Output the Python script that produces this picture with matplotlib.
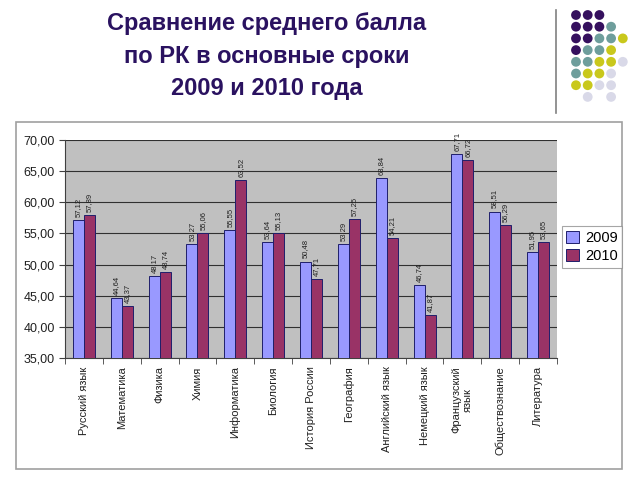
import matplotlib
matplotlib.use("Agg")
import matplotlib.pyplot as plt
from matplotlib.patches import Rectangle, Circle
from matplotlib.lines import Line2D
import numpy as np

categories = ["Русский язык", "Математика", "Физика", "Химия", "Информатика",
              "Биология", "История России", "География", "Английский язык",
              "Немецкий язык", "Французский\nязык", "Обществознание", "Литература"]
v2009 = [57.12, 44.64, 48.17, 53.27, 55.55, 53.64, 50.48, 53.29, 63.84, 46.74, 67.71, 58.51, 51.95]
v2010 = [57.89, 43.37, 48.74, 55.06, 63.52, 55.13, 47.71, 57.25, 54.21, 41.87, 66.72, 56.29, 53.65]
yticks = [35, 40, 45, 50, 55, 60, 65, 70]

plt.rcParams['font.family'] = ['Liberation Sans', 'DejaVu Sans']
W, H = 640, 480
fig = plt.figure(figsize=(6.4, 4.8), dpi=100)

def fx(x): return x / W
def fy(y): return 1 - y / H

# title
fig.text(fx(267), fy(56), "Сравнение среднего балла\nпо РК в основные сроки\n2009 и 2010 года",
         ha='center', va='center', fontsize=17, fontweight='bold', color='#2A1260',
         linespacing=1.55)

# vertical separator
fig.add_artist(Line2D([fx(556), fx(556)], [fy(10), fy(113)], color='#808080', lw=1.2))

# dot grid
purple, teal, yellow, lav = '#35105E', '#6E9E9C', '#C9C81C', '#D9D9E8'
grid = [
    [purple, purple, purple, None, None],
    [purple, purple, purple, teal, None],
    [purple, purple, teal, teal, yellow],
    [purple, teal, teal, yellow, None],
    [teal, teal, yellow, yellow, lav],
    [teal, yellow, yellow, lav, None],
    [yellow, yellow, lav, lav, None],
    [None, lav, None, lav, None],
]
for r, row in enumerate(grid):
    for c, col in enumerate(row):
        if col is None:
            continue
        cx = 576 + c * 11.7
        cy = 15 + r * 11.7
        fig.add_artist(Circle((cx, H - cy), 4.9, transform=None, color=col, lw=0))

# chart box
fig.add_artist(Rectangle((fx(16), fy(469)), fx(622) - fx(16), fy(122) - fy(469),
                         transform=fig.transFigure, fill=False, edgecolor='#A0A0A0', lw=1.2))

ax = fig.add_axes([fx(65), fy(358), fx(557) - fx(65), fy(140) - fy(358)])
ax.set_facecolor('#C0C0C0')
x = np.arange(len(categories))
w = 0.29
b1 = ax.bar(x - w / 2, v2009, w, color='#9999FF', edgecolor='#1F1F6B', lw=0.7, label='2009', zorder=3)
b2 = ax.bar(x + w / 2, v2010, w, color='#993366', edgecolor='#1F1F6B', lw=0.7, label='2010', zorder=3)
for bars, vals in ((b1, v2009), (b2, v2010)):
    for b, v in zip(bars, vals):
        ax.text(b.get_x() + b.get_width() / 2, v + 0.5, f"{v:.2f}".replace('.', ','),
                rotation=90, ha='center', va='bottom', fontsize=5.5, color='#202020')

ax.set_ylim(35, 70)
ax.set_xlim(-0.5, len(categories) - 0.5)
ax.set_yticks(yticks)
ax.set_yticklabels([f"{t:.2f}".replace('.', ',') for t in yticks], fontsize=9, color='#202020')
ax.yaxis.grid(True, color='#303030', lw=0.8, zorder=1)
ax.set_xticks(x)
ax.set_xticklabels(categories, rotation=90, fontsize=8, color='#202020', va='top', ha='center')
ax.set_xticks(np.arange(-0.5, len(categories), 1), minor=True)
ax.tick_params(axis='x', which='major', length=0, pad=6)
ax.tick_params(axis='x', which='minor', length=4, color='#404040')
ax.tick_params(axis='y', length=4, color='#404040')
for s in ['top', 'right']:
    ax.spines[s].set_visible(False)
for s in ['left', 'bottom']:
    ax.spines[s].set_color('#404040')

leg = fig.legend(handles=[b1, b2], loc='center', bbox_to_anchor=(fx(592), fy(247)),
                 fontsize=10.5, frameon=True, fancybox=False, edgecolor='#909090',
                 handlelength=0.9, handleheight=0.9, handletextpad=0.4, borderpad=0.3,
                 labelspacing=0.3, borderaxespad=0)
leg.get_frame().set_linewidth(0.8)

fig.savefig("out.png", dpi=100)
